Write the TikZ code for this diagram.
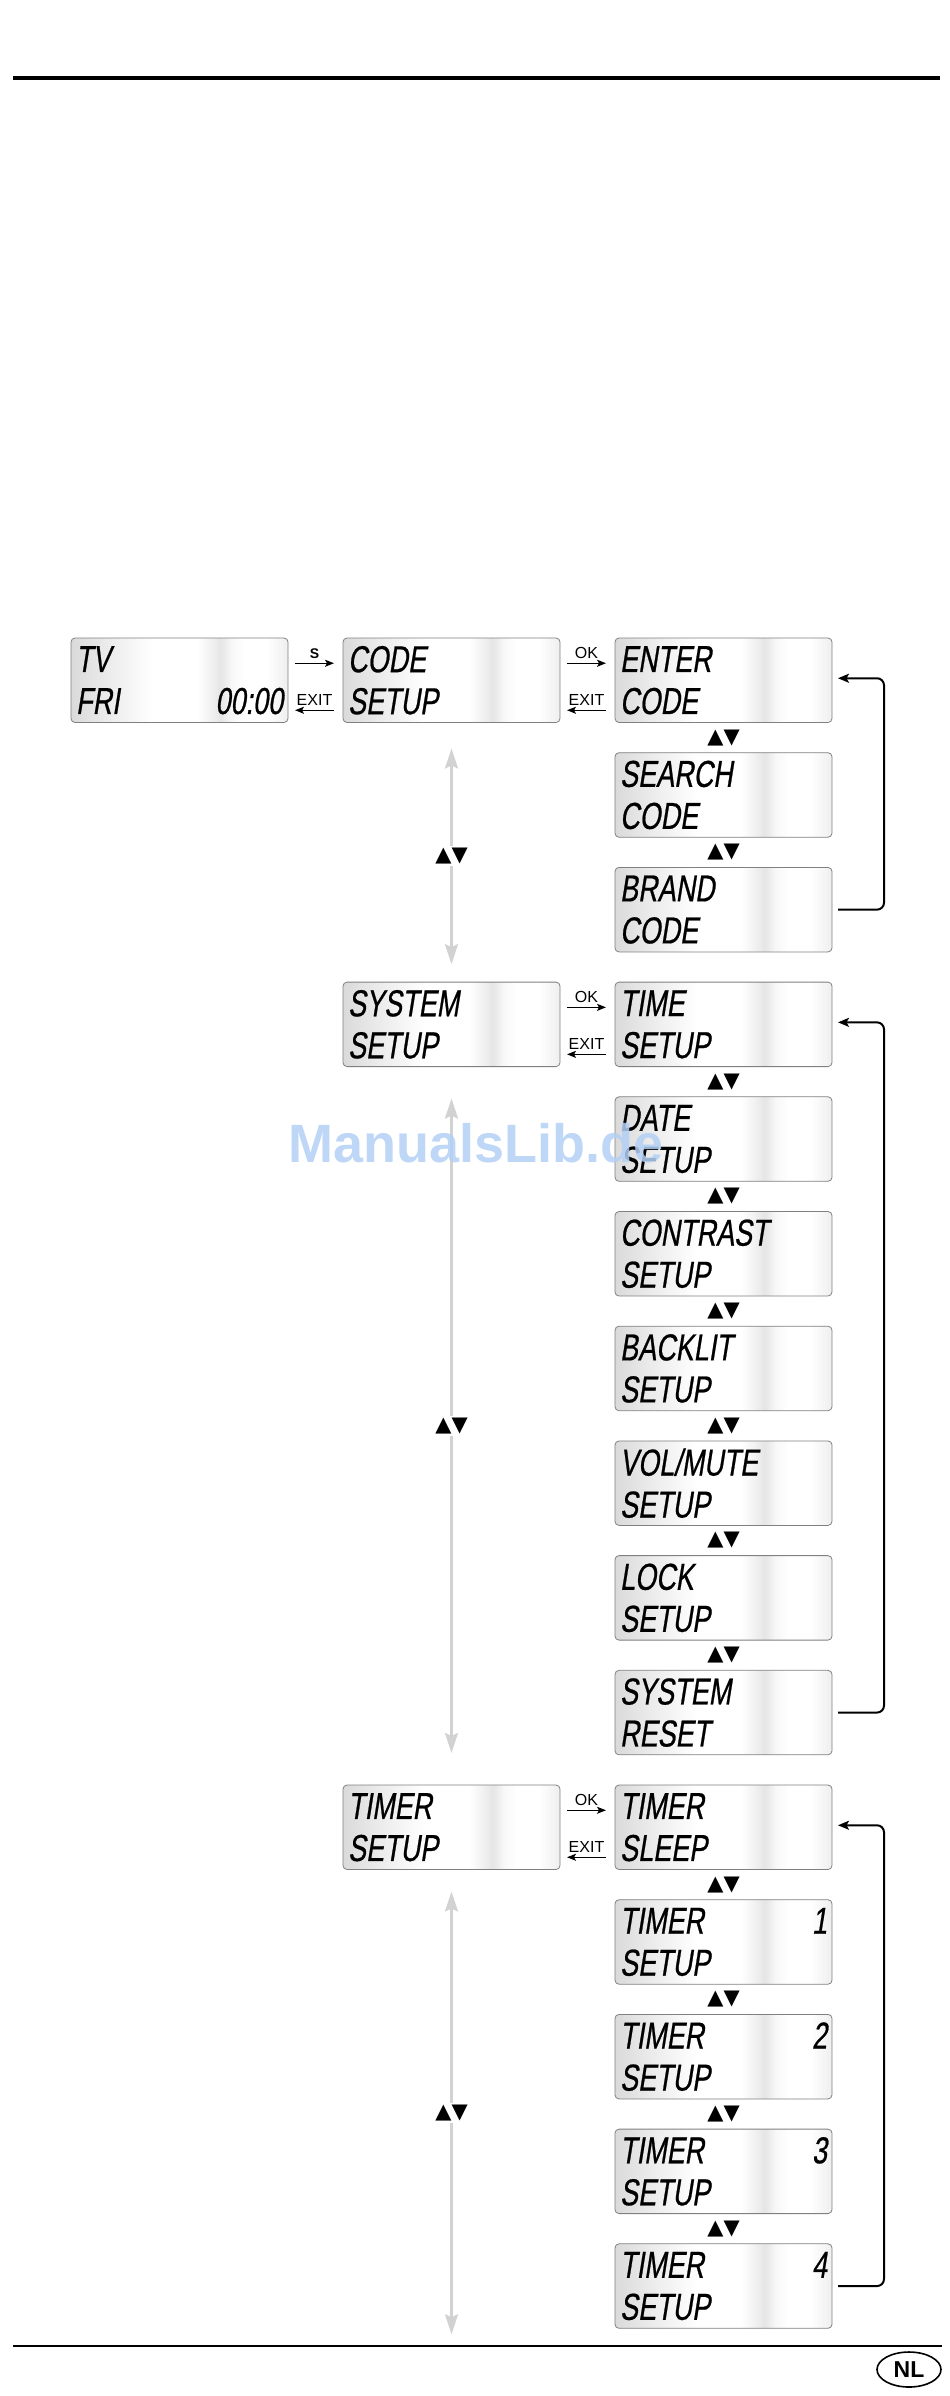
\documentclass[tikz,border=0pt]{standalone}
\usepackage{fontspec}
\setmainfont{Liberation Sans}
\newfontfamily\lcdfont[FakeStretch=0.72,FakeSlant=0.16,FakeBold=0.6]{Liberation Sans}
\newfontfamily\symfont{DejaVu Sans}
\usetikzlibrary{arrows.meta,positioning,shapes.geometric}

\definecolor{lcdgray}{RGB}{218,218,218}
\definecolor{navgray}{RGB}{210,210,210}
\definecolor{wmblue}{RGB}{180,208,245}
\pgfdeclarehorizontalshading{lcdshade}{100bp}{color(0bp)=(lcdgray); color(25bp)=(lcdgray); color(33bp)=(lcdgray!55!white); color(44bp)=(white); color(54bp)=(white); color(57bp)=(lcdgray!35!white); color(59.5bp)=(lcdgray!70!white); color(62bp)=(lcdgray!20!white); color(65bp)=(white); color(70bp)=(white); color(75bp)=(lcdgray!45!white); color(100bp)=(lcdgray!45!white)}

\begin{document}
\begin{tikzpicture}[
      x=1pt, y=1pt,
      lcdbox/.style={
         draw=gray,
         line width=0.8pt,
         rounded corners=4pt,
         shade, shading=lcdshade,
         minimum width=217pt,
         minimum height=84.5pt,
         inner xsep=5pt, inner ysep=0pt,
         outer sep=0pt,
         text width=207pt,
         align=left,
         font=\lcdfont\fontsize{37.5}{42}\selectfont},
      keyarrow/.style={-{Stealth[length=9pt,width=7pt,inset=2pt]}, line width=1.3pt},
      keylabel/.style={above, inner sep=4pt, font=\fontsize{16}{16}\selectfont},
      navarrow/.style={{Stealth[length=20pt,width=13pt,inset=3pt]}-{Stealth[length=20pt,width=13pt,inset=3pt]},
         draw=navgray, line width=2.6pt},
      updown/.style={fill=white, inner sep=2pt, font=\symfont\fontsize{21}{21}\selectfont},
      loopback/.style={-{Stealth[length=11pt,width=9pt,inset=2.5pt]}, line width=2pt, rounded corners=7pt},
      node distance=30.2pt and 55pt
      ]
      \useasboundingbox (0,0) rectangle (950,-2396);

      % page rules
      \draw[line width=4pt] (13,-78) -- (940,-78);
      \draw[line width=2.5pt] (13,-2346) -- (942,-2346);

      \node[lcdbox] (enter) at (723.5,-680.25) {ENTER\\CODE};
      \node[lcdbox,left=of enter] (codeset) {CODE\\SETUP};
      \node[lcdbox,left=of codeset] (tv) {TV\\FRI\hfill 00:00};
      \node[lcdbox,below=of enter] (search) {SEARCH\\CODE};
      \node[lcdbox,below=of search] (brand) {BRAND\\CODE};
      \node[lcdbox,below=of brand] (time) {TIME\\SETUP};
      \node[lcdbox,below=of time] (date) {DATE\\SETUP};
      \node[lcdbox,below=of date] (contrast) {CONTRAST\\SETUP};
      \node[lcdbox,below=of contrast] (backlit) {BACKLIT\\SETUP};
      \node[lcdbox,below=of backlit] (volmute) {VOL/MUTE\\SETUP};
      \node[lcdbox,below=of volmute] (lock) {LOCK\\SETUP};
      \node[lcdbox,below=of lock] (sysreset) {SYSTEM\\RESET};
      \node[lcdbox,below=of sysreset] (tsleep) {TIMER\\SLEEP};
      \node[lcdbox,below=of tsleep] (timer1) {TIMER\hfill 1\\SETUP};
      \node[lcdbox,below=of timer1] (timer2) {TIMER\hfill 2\\SETUP};
      \node[lcdbox,below=of timer2] (timer3) {TIMER\hfill 3\\SETUP};
      \node[lcdbox,below=of timer3] (timer4) {TIMER\hfill 4\\SETUP};
      \node[lcdbox,left=of time] (sysset) {SYSTEM\\SETUP};
      \node[lcdbox,left=of tsleep] (timset) {TIMER\\SETUP};

      % S / OK and EXIT keys
      \draw[keyarrow] ([xshift=7pt,yshift=17pt]tv.east) -- node[keylabel,font=\bfseries\fontsize{14}{14}\selectfont] {S} ([xshift=-9pt,yshift=17pt]codeset.west);
      \draw[keyarrow] ([xshift=-9pt,yshift=-30pt]codeset.west) -- node[keylabel] {EXIT} ([xshift=7pt,yshift=-30pt]tv.east);
      \foreach \i/\j in {codeset/enter, sysset/time, timset/tsleep} {
         \draw[keyarrow] ([xshift=7pt,yshift=17pt]\i.east) -- node[keylabel] {OK} ([xshift=-9pt,yshift=17pt]\j.west);
         \draw[keyarrow] ([xshift=-9pt,yshift=-30pt]\j.west) -- node[keylabel] {EXIT} ([xshift=7pt,yshift=-30pt]\i.east);
      }

      % up/down between the menu items
      \foreach \i/\j in {enter/search, search/brand,
         time/date, date/contrast, contrast/backlit, backlit/volmute, volmute/lock, lock/sysreset,
         tsleep/timer1, timer1/timer2, timer2/timer3, timer3/timer4}
         \path (\i) -- node[updown,fill=none] {▲▼} (\j);

      % back to the first item
      \draw[loopback] ([xshift=6pt]brand.east) -- ++(46pt,0) |- ([xshift=6pt,yshift=2pt]enter.east);
      \draw[loopback] ([xshift=6pt]sysreset.east) -- ++(46pt,0) |- ([xshift=6pt,yshift=2pt]time.east);
      \draw[loopback] ([xshift=6pt]timer4.east) -- ++(46pt,0) |- ([xshift=6pt,yshift=2pt]tsleep.east);

      % up/down between the setup menus
      \coordinate (navend) at (timset.south |- timer4.south);
      \draw[navarrow] ([yshift=-26pt]codeset.south) -- node[updown] {▲▼} ([yshift=18pt]sysset.north);
      \draw[navarrow] ([yshift=-32pt]sysset.south) -- node[updown] {▲▼} ([yshift=32pt]timset.north);
      \draw[navarrow] ([yshift=-22pt]timset.south) -- node[updown] {▲▼} ([yshift=-6pt]navend);

      \node[draw,ellipse,line width=1.6pt,minimum width=64pt,minimum height=35pt,inner sep=0pt,
         font=\bfseries\fontsize{23}{23}\selectfont] (lang) at (909,-2369.5) {NL};

      \node[anchor=base west,inner sep=0pt,text=wmblue,opacity=0.85,
         font=\bfseries\fontsize{54}{54}\selectfont] (watermark) at (288,-1162) {ManualsLib.de};
\end{tikzpicture}
\end{document}
